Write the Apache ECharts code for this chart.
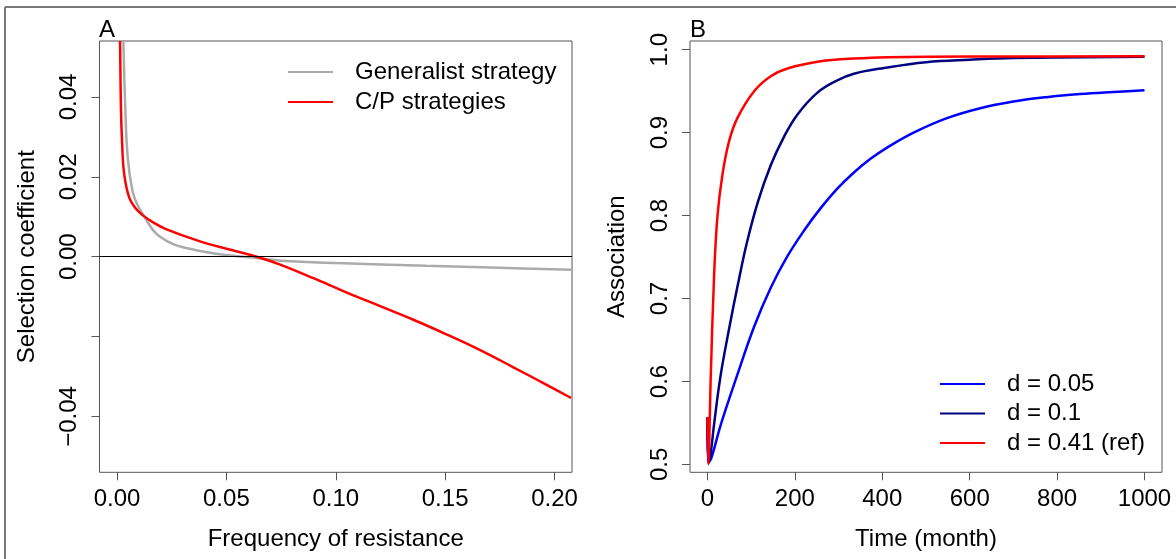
<!DOCTYPE html>
<html>
<head>
<meta charset="utf-8">
<script src="https://cdn.jsdelivr.net/npm/echarts@6/dist/echarts.min.js"></script>
<style>
html,body{margin:0;padding:0;background:#fff;}
#chart{width:1176px;height:559px;}
</style>
</head>
<body>
<div id="chart"></div>
<script>
// ---- Panel A data: [frequency of resistance, selection coefficient]
var generalistData = [[0.0029,0.054],[0.0038,0.0372],[0.0049,0.0248],[0.0071,0.0164],[0.0095,0.0128],[0.0125,0.0100],[0.0178,0.0058],[0.024,0.0036],[0.030,0.00235],[0.0452,0.00075],[0.065,-0.0004],[0.075,-0.0010],[0.100,-0.0016],[0.1413,-0.0023],[0.175,-0.0028],[0.2076,-0.0033]];
var cpData = [[0.0014,0.054],[0.0018,0.0372],[0.0023,0.0289],[0.0033,0.0206],[0.0056,0.0148],[0.0085,0.0121],[0.0117,0.0104],[0.0165,0.0086],[0.0224,0.0069],[0.0376,0.0039],[0.0528,0.0016],[0.065,-0.0002],[0.0746,-0.0020],[0.0898,-0.0054],[0.1051,-0.0090],[0.1203,-0.0124],[0.1355,-0.0158],[0.1508,-0.0195],[0.166,-0.0234],[0.1812,-0.0277],[0.1964,-0.0321],[0.2076,-0.0354]];
var xTicksA = [0, 0.05, 0.10, 0.15, 0.20];
var yTicksA = [-0.04, -0.02, 0, 0.02, 0.04];
var yLabelsA = [-0.04, 0, 0.02, 0.04];

// ---- Panel B data: [time (month), association]
var d005 = [[0,0.557],[2,0.502],[9,0.508],[30.5,0.548],[68.6,0.6085],[106.7,0.666],[144.8,0.713],[182.9,0.751],[221,0.782],[259,0.809],[297,0.8325],[335,0.852],[373,0.8685],[411,0.882],[471.6,0.9],[547.9,0.9175],[624,0.9295],[700,0.9375],[776,0.9428],[852.6,0.9465],[928.8,0.949],[1000,0.951]];
var d01 = [[0,0.557],[2,0.502],[6,0.508],[15,0.548],[30,0.607],[50,0.665],[70,0.718],[90,0.767],[115,0.816],[145,0.861],[175,0.895],[206,0.922],[251,0.948],[297,0.963],[335,0.971],[404,0.978],[500,0.985],[600,0.988],[700,0.990],[1000,0.9915]];
var d041 = [[0,0.557],[2,0.5],[7.6,0.6085],[15.2,0.729],[22.9,0.80],[34.3,0.8496],[49.5,0.8897],[68.6,0.9178],[106.7,0.95],[144.8,0.968],[182.9,0.9773],[259,0.986],[335,0.9893],[411,0.991],[600,0.9918],[1000,0.992]];
var xTicksB = [0, 200, 400, 600, 800, 1000];
var yTicksB = [0.5, 0.6, 0.7, 0.8, 0.9, 1.0];

var FONT = '"Liberation Sans", Arial, sans-serif';
var FS = 24;
var TICKC = '#555';
function minus(s){ return s.replace('-', '\u2212'); }

var chart = echarts.init(document.getElementById('chart'), null, {renderer:'canvas'});
var axisCommon = {
  axisLine:{show:false, onZero:false},
  splitLine:{show:false},
  axisTick:{show:true, inside:false, length:8, lineStyle:{color:TICKC, width:1}},
  nameTextStyle:{fontSize:FS, color:'#000', fontFamily:FONT},
  nameLocation:'middle'
};
function ax(extra){ return echarts.util.merge(echarts.util.clone(axisCommon), extra, true); }

var legendText = {fontSize:FS, color:'#000', fontFamily:FONT, lineHeight:24, padding:[0,0,0,17]};

var option = {
  animation:false,
  backgroundColor:'#fff',
  textStyle:{fontFamily:FONT, color:'#000'},
  title:[
    {text:'A', left:99, top:18, padding:0, textStyle:{fontSize:FS, fontWeight:'normal', color:'#000', fontFamily:FONT}},
    {text:'B', left:690, top:18, padding:0, textStyle:{fontSize:FS, fontWeight:'normal', color:'#000', fontFamily:FONT}}
  ],
  graphic:[
    {type:'line', shape:{x1:5, y1:7, x2:1176, y2:7}, style:{stroke:'#7a7a7a', lineWidth:2}},
    {type:'line', shape:{x1:5, y1:7, x2:5, y2:559}, style:{stroke:'#7a7a7a', lineWidth:2}}
  ],
  grid:[
    {left:99.5, top:41, width:472.5, height:431.3, show:true, borderColor:'#555', borderWidth:1, backgroundColor:'transparent'},
    {left:690, top:41, width:472, height:431.3, show:true, borderColor:'#555', borderWidth:1, backgroundColor:'transparent'}
  ],
  legend:[
    {data:['Generalist strategy','C/P strategies'], orient:'vertical', left:288, top:60, padding:0,
     icon:'rect', itemWidth:45, itemHeight:2, itemGap:6, textStyle:legendText},
    {data:['d = 0.05','d = 0.1','d = 0.41 (ref)'], orient:'vertical', left:940, top:372, padding:0,
     icon:'rect', itemWidth:45, itemHeight:2, itemGap:5.5, textStyle:legendText}
  ],
  xAxis:[
    ax({gridIndex:0, type:'value', min:-0.008, max:0.208,
       axisTick:{customValues:xTicksA},
       axisLabel:{customValues:xTicksA, fontSize:FS, color:'#000', margin:15, fontFamily:FONT,
                  formatter:function(v){return minus(v.toFixed(2));}},
       name:'Frequency of resistance', nameGap:55.5}),
    ax({gridIndex:1, type:'value', min:-40, max:1040,
       axisTick:{customValues:xTicksB},
       axisLabel:{customValues:xTicksB, fontSize:FS, color:'#000', margin:15, fontFamily:FONT,
                  formatter:function(v){return String(Math.round(v));}},
       name:'Time (month)', nameGap:55.5})
  ],
  yAxis:[
    ax({gridIndex:0, type:'value', min:-0.054, max:0.054,
       axisTick:{customValues:yTicksA},
       axisLabel:{customValues:yLabelsA, rotate:90, fontSize:FS, color:'#000', margin:18, fontFamily:FONT,
                  formatter:function(v){return minus((Math.abs(v)<1e-9?0:v).toFixed(2));}},
       name:'Selection coefficient', nameGap:60.5}),
    ax({gridIndex:1, type:'value', min:0.4905, max:1.0105,
       axisTick:{customValues:yTicksB},
       axisLabel:{customValues:yTicksB, rotate:90, fontSize:FS, color:'#000', margin:18, fontFamily:FONT,
                  formatter:function(v){return v.toFixed(1);}},
       name:'Association', nameGap:60.5})
  ],
  series:[
    {name:'Generalist strategy', type:'line', xAxisIndex:0, yAxisIndex:0, data:generalistData,
     symbol:'none', smooth:0.4, clip:true,
     lineStyle:{color:'#ABABAB', width:2.5}, itemStyle:{color:'#ABABAB'},
     markLine:{silent:true, symbol:'none', label:{show:false}, animation:false,
               lineStyle:{color:'#000', width:1, type:'solid'}, data:[{yAxis:0}]}},
    {name:'C/P strategies', type:'line', xAxisIndex:0, yAxisIndex:0, data:cpData,
     symbol:'none', smooth:0.4, clip:true,
     lineStyle:{color:'#FF0000', width:2.5}, itemStyle:{color:'#FF0000'}},
    {name:'d = 0.05', type:'line', xAxisIndex:1, yAxisIndex:1, data:d005,
     symbol:'none', smooth:0.4, clip:true,
     lineStyle:{color:'#0000FF', width:2.5}, itemStyle:{color:'#0000FF'}},
    {name:'d = 0.1', type:'line', xAxisIndex:1, yAxisIndex:1, data:d01,
     symbol:'none', smooth:0.4, clip:true,
     lineStyle:{color:'#000080', width:2.5}, itemStyle:{color:'#000080'}},
    {name:'d = 0.41 (ref)', type:'line', xAxisIndex:1, yAxisIndex:1, data:d041,
     symbol:'none', smooth:0.3, clip:true,
     lineStyle:{color:'#FF0000', width:2.5}, itemStyle:{color:'#FF0000'}}
  ]
};
chart.setOption(option);
</script>
</body>
</html>
